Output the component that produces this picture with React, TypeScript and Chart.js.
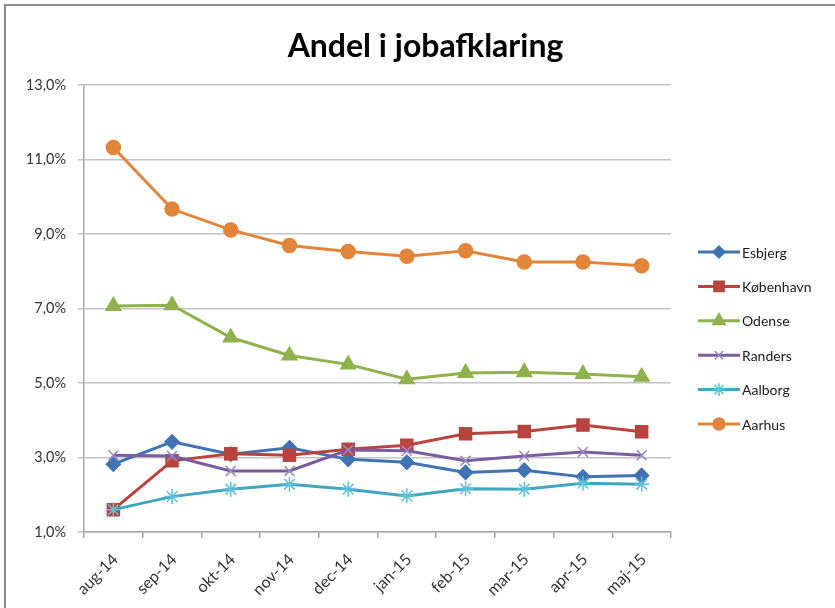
import React, { useEffect, useRef } from "react";
import { Chart, registerables } from "chart.js";
import { drawPoint } from "chart.js/helpers";

Chart.register(...registerables);

const categories = ["aug-14", "sep-14", "okt-14", "nov-14", "dec-14", "jan-15", "feb-15", "mar-15", "apr-15", "maj-15"];
const seriesNames = ["Esbjerg", "København", "Odense", "Randers", "Aalborg", "Aarhus"];
const esbjerg = [2.82, 3.42, 3.09, 3.26, 2.95, 2.87, 2.6, 2.66, 2.48, 2.52];
const kobenhavn = [1.6, 2.91, 3.1, 3.06, 3.22, 3.33, 3.64, 3.7, 3.87, 3.69];
const odense = [7.07, 7.09, 6.22, 5.74, 5.5, 5.1, 5.27, 5.29, 5.24, 5.17];
const randers = [3.06, 3.04, 2.64, 2.64, 3.2, 3.18, 2.91, 3.04, 3.15, 3.06];
const aalborg = [1.6, 1.95, 2.15, 2.28, 2.15, 1.97, 2.16, 2.15, 2.31, 2.28];
const aarhus = [11.32, 9.67, 9.11, 8.69, 8.53, 8.4, 8.55, 8.25, 8.25, 8.15];
const yMin = 1;
const yMax = 13;
const yStep = 2;

const FONT = "Lato, 'Noto Sans', sans-serif";

const styles = [
  { color: "#4173b3", point: "rectRot", radius: 7, pointColor: "#4173b3" },
  { color: "#b8433f", point: "rect", radius: 8.5, pointColor: "#b8433f" },
  { color: "#8fb24d", point: "triangle", radius: 8.5, pointColor: "#8fb24d" },
  { color: "#7a5c9f", point: "crossRot", radius: 7, pointColor: "#9a86c0" },
  { color: "#3fa6c0", point: "star", radius: 7.5, pointColor: "#5fc0d8" },
  { color: "#e2853a", point: "circle", radius: 7, pointColor: "#e2853a" },
];

const seriesValues = [esbjerg, kobenhavn, odense, randers, aalborg, aarhus];

const legendPlugin = {
  id: "lineLegend",
  afterDraw(chart: any) {
    const ctx = chart.ctx;
    const area = chart.chartArea;
    const x0 = area.right + 27;
    const x1 = x0 + 42;
    const yStart = area.top + 167;
    const gap = 34.4;
    ctx.save();
    chart.data.datasets.forEach((ds: any, i: number) => {
      const y = yStart + i * gap;
      ctx.strokeStyle = ds.borderColor;
      ctx.lineWidth = 3;
      ctx.beginPath();
      ctx.moveTo(x0, y);
      ctx.lineTo(x1, y);
      ctx.stroke();
      ctx.fillStyle = ds.pointBackgroundColor;
      ctx.strokeStyle = ds.pointBorderColor;
      ctx.lineWidth = 1.5;
      drawPoint(ctx, { pointStyle: ds.pointStyle, radius: ds.pointRadius * 0.85, rotation: 0, borderWidth: 1.5 }, (x0 + x1) / 2, y);
      ctx.fillStyle = "#1a1a1a";
      ctx.font = `14px ${FONT}`;
      ctx.textAlign = "left";
      ctx.textBaseline = "middle";
      ctx.fillText(ds.label, x1 + 2, y + 1);
    });
    ctx.restore();
  },
};

export default function App() {
  const ref = useRef<HTMLCanvasElement>(null);
  useEffect(() => {
    if (!ref.current) return;
    const datasets = seriesNames.map((name, i) => ({
      label: name,
      data: seriesValues[i],
      borderColor: styles[i].color,
      backgroundColor: styles[i].color,
      borderWidth: 3,
      pointStyle: styles[i].point,
      pointRadius: styles[i].radius,
      pointHoverRadius: styles[i].radius,
      pointBackgroundColor: styles[i].pointColor,
      pointBorderColor: styles[i].pointColor,
      pointBorderWidth: 1.5,
      tension: 0,
      order: seriesNames.length - i,
    }));
    const chart = new Chart(ref.current, {
      type: "line",
      data: { labels: categories, datasets },
      options: {
        animation: false,
        responsive: false,
        maintainAspectRatio: false,
        layout: { padding: 0 },
        plugins: {
          legend: { display: false },
          tooltip: { enabled: false },
          title: {
            display: true,
            text: "Andel i jobafklaring",
            color: "#000",
            font: { family: FONT, size: 32, weight: "bold" },
            padding: { top: 20, bottom: 19.6 },
          },
        },
        scales: {
          x: {
            offset: true,
            grid: { display: true, drawOnChartArea: false, drawTicks: true, tickLength: 6, color: "#a6a6a6", lineWidth: 1.5, offset: true },
            border: { display: true, color: "#a6a6a6", width: 1.5 },
            ticks: { color: "#333", font: { family: FONT, size: 16 }, maxRotation: 45, minRotation: 45, padding: 12, labelOffset: 2, autoSkip: false },
            afterFit: (s: any) => { s.height = 76; },
          },
          y: {
            min: yMin,
            max: yMax,
            grid: { color: "#c4c4c4", lineWidth: 1.5, tickLength: 6 },
            border: { display: true, color: "#a6a6a6", width: 1.5 },
            ticks: {
              stepSize: yStep,
              color: "#333",
              padding: 12,
              font: { family: FONT, size: 14.5 },
              callback: (v: any) => Number(v).toFixed(1).replace(".", ",") + "%",
            },
            afterFit: (s: any) => { s.width = 77; },
          },
          legendSpace: {
            type: "linear",
            position: "right",
            display: true,
            grid: { display: false, drawTicks: false },
            border: { display: false },
            ticks: { display: false },
            afterFit: (s: any) => { s.width = 173; },
          },
        },
      },
      plugins: [legendPlugin],
    });
    return () => chart.destroy();
  }, []);
  return (
    <div style={{ position: "fixed", left: 0, top: 0, width: 835, height: 608, overflow: "hidden", background: "#fff" }}>
      <div style={{ position: "absolute", left: 4, top: 4, width: 900, height: 700, borderTop: "2px solid #8a8a8a", borderLeft: "2px solid #8a8a8a" }} />
      <canvas ref={ref} width={837} height={601} style={{ position: "absolute", left: 7, top: 7, width: 837, height: 601 }} />
    </div>
  );
}
